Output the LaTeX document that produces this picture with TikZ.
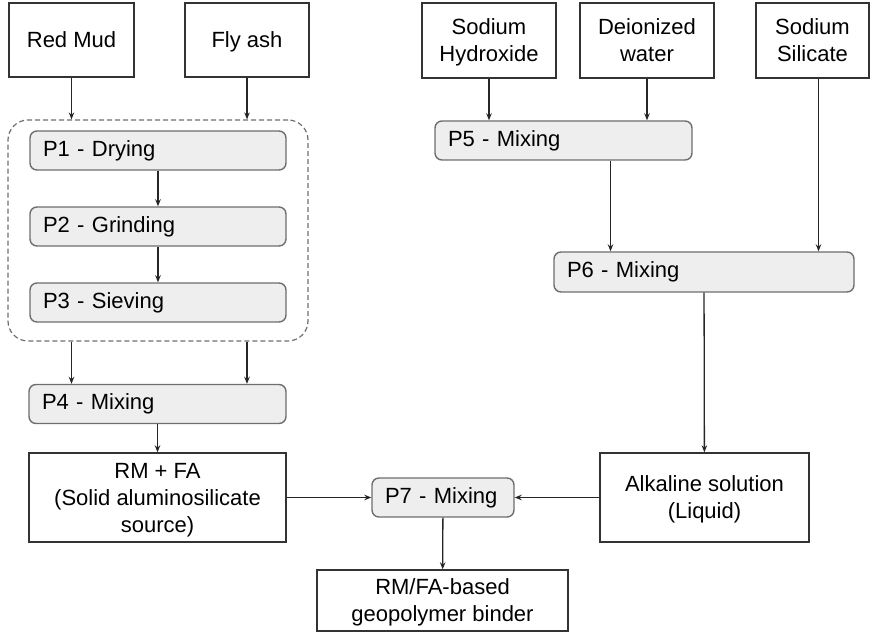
\documentclass[tikz,border=0pt]{standalone}
\usepackage{fontspec}
\setmainfont{Liberation Sans}
\usetikzlibrary{arrows.meta}
\usepackage{xcolor}
\definecolor{procfill}{HTML}{EEEEEE}
\definecolor{procline}{HTML}{6E6E6E}

\begin{document}
\begin{tikzpicture}[
    x=1pt, y=-1pt,
    base/.style={font=\fontsize{22}{27}\selectfont, inner sep=0pt, line width=1.4pt},
    srcbox/.style={base, draw=black!80, align=center, text depth=0pt},
    procbox/.style={base, draw=procline, fill=procfill, rounded corners=7pt,
        align=left, inner xsep=13pt, minimum height=39pt},
    flow/.style={-{Stealth[length=7pt,width=5.5pt]}, line width=1.3pt, black!85}]
    \useasboundingbox (0,0) rectangle (873,636);

    \node[srcbox, minimum width=125pt, minimum height=74pt] (redmud) at (71.5,40) {Red Mud};
    \node[srcbox, minimum width=124pt, minimum height=74pt] (flyash) at (247,40) {Fly ash};
    \node[srcbox, minimum width=134pt, minimum height=75pt] (naoh) at (489,40.5) {Sodium\\Hydroxide};
    \node[srcbox, minimum width=134pt, minimum height=75pt] (water) at (647,40.5) {Deionized\\water};
    \node[srcbox, minimum width=113pt, minimum height=75pt] (silicate) at (812.5,40.5) {Sodium\\Silicate};

    \node[draw=procline, dashed, dash pattern=on 5pt off 3pt, rounded corners=20pt, line width=1.2pt,
        minimum width=300pt, minimum height=221pt, inner sep=0pt] (prep) at (158,230.5) {};
    \node[procbox, text width=230pt] (p1) at (158,150.5) {P1 - Drying};
    \node[procbox, text width=230pt] (p2) at (158,226.5) {P2 - Grinding};
    \node[procbox, text width=230pt] (p3) at (158,302.5) {P3 - Sieving};
    \node[procbox, text width=231pt] (p4) at (157.5,404) {P4 - Mixing};
    \node[srcbox, minimum width=257pt, minimum height=89pt] (solid) at (157.5,497.5)
        {RM + FA\\(Solid aluminosilicate\\source)};

    \node[procbox, text width=231pt] (p5) at (563.5,140.5) {P5 - Mixing};
    \node[procbox, text width=274pt, minimum height=40pt] (p6) at (704,272) {P6 - Mixing};
    \node[srcbox, minimum width=209pt, minimum height=89pt] (alkali) at (704.5,497.5)
        {Alkaline solution\\(Liquid)};

    \node[procbox, text width=116pt] (p7) at (443,497.5) {P7 - Mixing};
    \node[srcbox, minimum width=251pt, minimum height=61pt] (binder) at (442.5,600.5)
        {RM/FA-based\\geopolymer binder};

    \draw[flow] (redmud.south) -- (redmud.south |- prep.north);
    \draw[flow] (flyash.south) -- (flyash.south |- prep.north);
    \draw[flow] (p1) -- (p2);
    \draw[flow] (p2) -- (p3);
    \draw[flow] (redmud.south |- prep.south) -- (redmud.south |- p4.north);
    \draw[flow] (flyash.south |- prep.south) -- (flyash.south |- p4.north);
    \draw[flow] (p4) -- (solid);

    \draw[flow] (naoh.south) -- (naoh.south |- p5.north);
    \draw[flow] (water.south) -- (water.south |- p5.north);
    \draw[flow] ([xshift=47pt]p5.south) -- ([xshift=47pt]p5.south |- p6.north);
    \draw[flow] ([xshift=6pt]silicate.south) -- ([xshift=6pt]silicate.south |- p6.north);
    \draw[flow] (p6) -- (alkali);

    \draw[flow] (solid) -- (p7);
    \draw[flow] (alkali) -- (p7);
    \draw[flow] (p7) -- (binder);
\end{tikzpicture}
\end{document}
